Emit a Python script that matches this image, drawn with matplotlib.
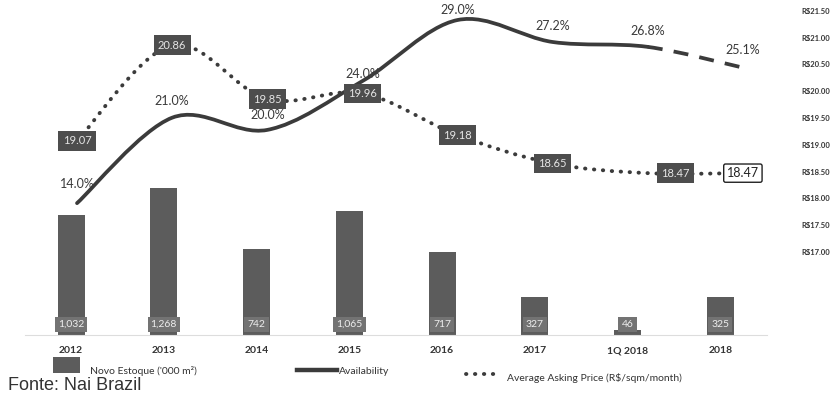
import numpy as np
import matplotlib.pyplot as plt
from matplotlib.path import Path
from matplotlib.patches import PathPatch, Rectangle
from matplotlib.lines import Line2D

# dados
anos = ['2012', '2013', '2014', '2015', '2016', '2017', '1Q 2018', '2018']
novo_estoque = [1032, 1268, 742, 1065, 717, 327, 46, 325]
availability = [14.0, 21.0, 20.0, 24.0, 29.0, 27.2, 26.8, 25.1]
preco = [19.07, 20.86, 19.85, 19.96, 19.18, 18.65, 18.47, 18.47]
preco_ticks = [17.0, 17.5, 18.0, 18.5, 19.0, 19.5, 20.0, 20.5, 21.0, 21.5]

plt.rcParams['font.family'] = ['Lato', 'DejaVu Sans']

cinza_barra = '#5c5c5c'
cinza_linha = '#3b3b3b'
pontilhado = (0, (0.1, 2.2))


def suave(x, y):
    # curva suavizada tipo excel (catmull-rom em bezier)
    x = np.asarray(x, float)
    y = np.asarray(y, float)
    px = np.r_[x[0], x, x[-1]]
    py = np.r_[y[0], y, y[-1]]
    verts = [(x[0], y[0])]
    codes = [Path.MOVETO]
    for i in range(len(x) - 1):
        c1 = (px[i+1] + (px[i+2] - px[i]) / 6, py[i+1] + (py[i+2] - py[i]) / 6)
        c2 = (px[i+2] - (px[i+3] - px[i+1]) / 6, py[i+2] - (py[i+3] - py[i+1]) / 6)
        verts += [c1, c2, (x[i+1], y[i+1])]
        codes += [Path.CURVE4] * 3
    return verts, codes


fig = plt.figure(figsize=(8.4, 3.96), dpi=100)
rect = [0.0294, 0.154, 0.8833, 0.846]

# barras
ax = fig.add_axes(rect)
x = np.arange(len(anos))
ax.bar(x, novo_estoque, width=0.29, color=cinza_barra, zorder=2)
ax.set_xlim(-0.5, 7.5)
ax.set_ylim(0, 2888)
for s in ['top', 'right', 'left']:
    ax.spines[s].set_visible(False)
ax.spines['bottom'].set_color('#dddddd')
ax.spines['bottom'].set_linewidth(0.8)
ax.set_yticks([])
ax.set_xticks(x)
ax.set_xticklabels(anos, fontsize=7.5, fontweight='bold', color='#333333')
ax.tick_params(axis='x', length=0, pad=8)
for i, v in enumerate(novo_estoque):
    ax.annotate(f'{v:,}', (i, 0), xytext=(0, 7.5), textcoords='offset points',
                ha='center', va='center', fontsize=7.5, color='#eeeeee', zorder=3,
                bbox=dict(boxstyle='square,pad=0.3', fc='#737373', ec='none'))

# availability
axl = fig.add_axes(rect)
axl.set_xlim(-0.55, 7.25)
axl.set_ylim(3.2, 30.64)
axl.axis('off')
verts, codes = suave(x, availability)
n = 1 + 3 * 6
axl.add_patch(PathPatch(Path(verts[:n], codes[:n]), fill=False, ec=cinza_linha,
                        lw=2.7, capstyle='round'))
axl.add_patch(PathPatch(Path(verts[n-1:n+3], [Path.MOVETO] + codes[n:n+3]), fill=False,
                        ec=cinza_linha, lw=2.7, linestyle=(0, (4, 3))))
desloc = [14, 12, 11, 5, 7, 11.5, 11.5, 13]
for i, v in enumerate(availability):
    axl.annotate(f'{v:.1f}%', (i, v), xytext=(0, desloc[i]), textcoords='offset points',
                 ha='center', va='center', fontsize=9, color='#3a3a3a')

# preço
axp = fig.add_axes(rect)
axp.set_xlim(-0.55, 7.25)
axp.set_ylim(15.45, 21.70)
axp.patch.set_visible(False)
for s in axp.spines.values():
    s.set_visible(False)
axp.set_xticks([])
axp.yaxis.tick_right()
axp.set_yticks(preco_ticks)
axp.set_yticklabels([f'R${t:.2f}' for t in preco_ticks])
axp.tick_params(axis='y', length=0, pad=25, labelsize=5.5, labelcolor='#333333')
for t in axp.get_yticklabels():
    t.set_fontweight('bold')
verts, codes = suave(x, preco)
pp = PathPatch(Path(verts, codes), fill=False, ec=cinza_linha, lw=2.8, linestyle=pontilhado)
pp.set_capstyle('round')
axp.add_patch(pp)
for i, v in enumerate(preco):
    if i == len(preco) - 1:
        axp.annotate(f'{v:.2f}', (i, v), ha='center', va='center', fontsize=9, color='#222222',
                     bbox=dict(boxstyle='round,pad=0.25,rounding_size=0.15', fc='white',
                               ec='#222222', lw=1), zorder=5)
    else:
        dx = 20 if i == 6 else 0
        axp.annotate(f'{v:.2f}', (i, v), xytext=(dx, 0), textcoords='offset points',
                     ha='center', va='center', fontsize=8, color='#e6e6e6', zorder=5,
                     bbox=dict(boxstyle='square,pad=0.38', fc='#4d4d4d', ec='none'))

# legenda
W, H = 840, 396
fig.add_artist(Rectangle((53 / W, 1 - 373 / H), 27 / W, 16 / H, transform=fig.transFigure,
                         fc=cinza_barra, ec='none'))
fig.text(90 / W, 1 - 371 / H, "Novo Estoque ('000 m²)", va='center', fontsize=7.5, color='#333333')
fig.add_artist(Line2D([297 / W, 337 / W], [1 - 370 / H] * 2, transform=fig.transFigure,
                      lw=3.2, color=cinza_linha))
fig.text(339 / W, 1 - 372 / H, 'Availability', va='center', fontsize=7.5, color='#333333')
fig.add_artist(Line2D([466 / W, 501 / W], [1 - 374 / H] * 2, transform=fig.transFigure,
                      lw=2.8, color=cinza_linha, ls=pontilhado, dash_capstyle='round'))
fig.text(507 / W, 1 - 378 / H, 'Average Asking Price (R$/sqm/month)', va='center',
         fontsize=7.5, color='#333333')

fig.text(8 / W, 1 - 385 / H, 'Fonte: Nai Brazil', va='center', fontsize=13,
         family='Liberation Sans', color='#333333')

fig.savefig('out.png', dpi=100)
